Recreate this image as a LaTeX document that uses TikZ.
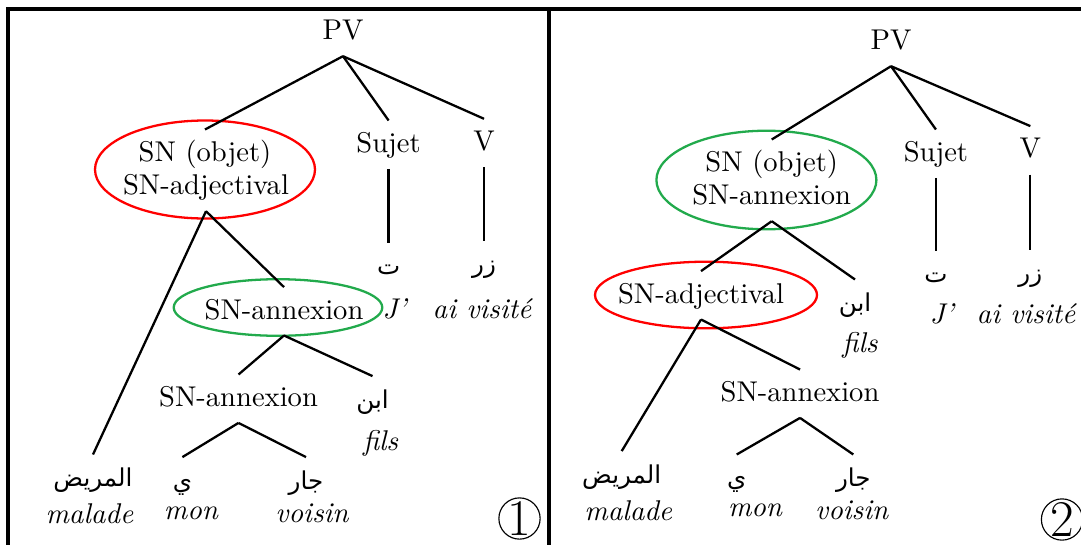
\documentclass[tikz,border=0pt]{standalone}
\usepackage{fontspec}
\newfontfamily\arabicfont[Script=Arabic,Scale=0.86]{DejaVu Sans}
\TeXXeTstate=1
\usepackage{tikz}
\usetikzlibrary{shapes.geometric}
\definecolor{ovgreen}{RGB}{34,170,76}
\newcommand{\arabe}[1]{{\arabicfont\beginR #1\endR}}
\tikzset{
  lbl/.style={inner sep=4.5pt, text height=1.5ex, text depth=.25ex},
  gloss/.style={inner sep=1pt, font=\itshape},
  branch/.style={line width=0.8pt},
  oval/.style={ellipse, draw, line width=0.8pt, inner sep=0pt},
  numero/.style={circle, draw, line width=0.4pt, inner sep=0pt, minimum size=14pt, font=\fontsize{18}{18}\selectfont}
}

\begin{document}
\begin{tikzpicture}[x=0.35pt, y=-0.35pt]
    \useasboundingbox (0,0) rectangle (1081,545);
    % cadre
    \draw[line width=1.4pt] (1081,9.5) -- (8,9.5) -- (8,545);
    \draw[line width=1.4pt] (548.5,9.5) -- (548.5,545);

    % arbre 1
    \node[oval, draw=red, minimum width=77pt, minimum height=34.3pt] (ovA) at (205,169.5) {};
    \node[oval, draw=ovgreen, minimum width=73pt, minimum height=19.8pt] (ovB) at (278,307.5) {};
    \node[lbl] (pvA) at (343,32) {PV};
    \node[lbl] (objA) at (205,153.7) {SN (objet)};
    \node[lbl] (adjA) at (206,187) {SN-adjectival};
    \node[lbl] (sujA) at (388.6,144.7) {Sujet};
    \node[lbl] (vA) at (484,143) {V};
    \node[lbl] (taA) at (388.6,267) {\arabe{ت}};
    \node[lbl] (zrA) at (484,265) {\arabe{زر}};
    \node[gloss] (jA) at (394.6,308.7) {J'};
    \node[gloss] (visA) at (482,308.7) {ai visité};
    \node[lbl] (annA) at (284,311.3) {SN-annexion};
    \node[lbl] (annA2) at (238.5,398.7) {SN-annexion};
    \node[lbl] (ibnA) at (372.5,400.3) {\arabe{ابن}};
    \node[gloss] (filsA) at (380.6,443.7) {fils};
    \node[lbl] (marA) at (93,478.7) {\arabe{المريض}};
    \node[gloss] (malA) at (89.4,513.7) {malade};
    \node[lbl] (yaA) at (182.4,481.3) {\arabe{ي}};
    \node[gloss] (monA) at (191,513.7) {mon};
    \node[lbl] (jarA) at (306,481.3) {\arabe{جار}};
    \node[gloss] (voisA) at (312,513.7) {voisin};
    \node[numero] (numA) at (519.5,518.5) {1};
    \draw[branch] (pvA.south) -- (objA.north);
    \draw[branch] (pvA.south) -- (sujA.north);
    \draw[branch] (pvA.south) -- (vA.north);
    \draw[branch] (sujA.south) -- (taA.north);
    \draw[branch] (vA.south) -- (zrA.north);
    \draw[branch] (adjA.south) -- (marA.north);
    \draw[branch] (adjA.south) -- (annA.north);
    \draw[branch] (annA.south) -- (annA2.north);
    \draw[branch] (annA.south) -- (ibnA.north);
    \draw[branch] (annA2.south) -- (yaA.north);
    \draw[branch] (annA2.south) -- (jarA.north);

    % arbre 2
    \node[oval, draw=ovgreen, minimum width=77pt, minimum height=34.5pt] (ovC) at (766.4,180) {};
    \node[oval, draw=red, minimum width=77.7pt, minimum height=23.3pt] (ovD) at (706,295) {};
    \node[lbl] (pvB) at (891,42) {PV};
    \node[lbl] (objB) at (771.7,163.7) {SN (objet)};
    \node[lbl] (annB) at (771.7,197) {SN-annexion};
    \node[lbl] (sujB) at (935.9,153.7) {Sujet};
    \node[lbl] (vB) at (1030.3,150.3) {V};
    \node[lbl] (taB) at (935.9,275) {\arabe{ت}};
    \node[lbl] (zrB) at (1030.3,274) {\arabe{زر}};
    \node[gloss] (jB) at (941.7,313.7) {J'};
    \node[gloss] (visB) at (1026,313.7) {ai visité};
    \node[lbl] (adjB) at (701,295.3) {SN-adjectival};
    \node[lbl] (ibnB) at (855,303.7) {\arabe{ابن}};
    \node[gloss] (filsB) at (860,345) {fils};
    \node[lbl] (annB2) at (800,393.7) {SN-annexion};
    \node[lbl] (marB) at (621.7,475.3) {\arabe{المريض}};
    \node[gloss] (malB) at (628.3,510.3) {malade};
    \node[lbl] (yaB) at (736.7,478.7) {\arabe{ي}};
    \node[gloss] (monB) at (755,510.3) {mon};
    \node[lbl] (jarB) at (853.3,478.7) {\arabe{جار}};
    \node[gloss] (voisB) at (851.7,510.3) {voisin};
    \node[numero] (numB) at (1062,519.5) {2};
    \draw[branch] (pvB.south) -- (objB.north);
    \draw[branch] (pvB.south) -- (sujB.north);
    \draw[branch] (pvB.south) -- (vB.north);
    \draw[branch] (sujB.south) -- (taB.north);
    \draw[branch] (vB.south) -- (zrB.north);
    \draw[branch] (annB.south) -- (adjB.north);
    \draw[branch] (annB.south) -- (ibnB.north);
    \draw[branch] (adjB.south) -- (marB.north);
    \draw[branch] (adjB.south) -- (annB2.north);
    \draw[branch] (annB2.south) -- (yaB.north);
    \draw[branch] (annB2.south) -- (jarB.north);
\end{tikzpicture}
\end{document}
